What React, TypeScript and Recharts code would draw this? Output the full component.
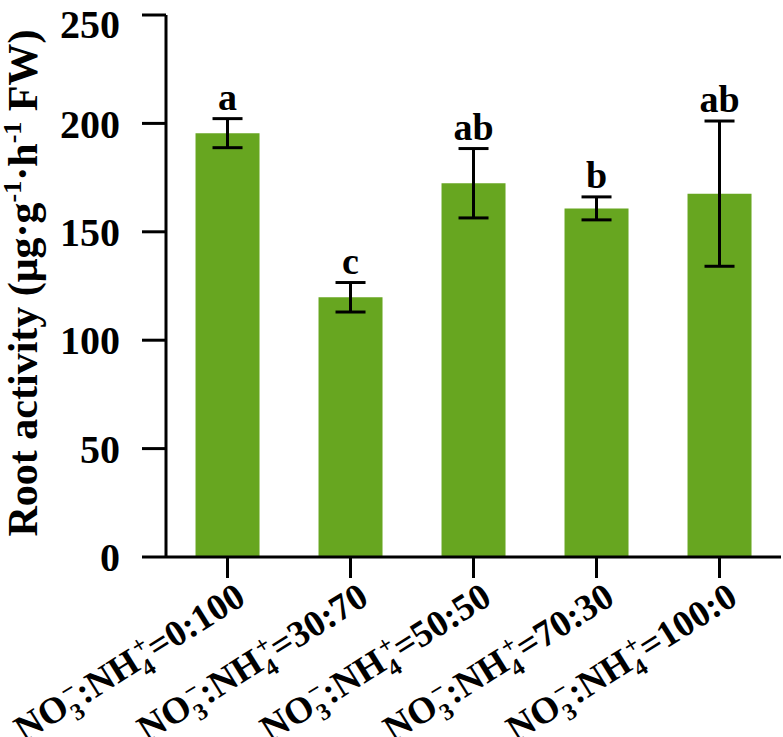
import {
  BarChart, Bar, XAxis, YAxis, ErrorBar, LabelList, Label,
} from "recharts"

const ratios = ["0:100", "30:70", "50:50", "70:30", "100:0"]
const rootActivity = [195.5, 119.8, 172.4, 160.8, 167.6]
const stdErr = [6.7, 6.8, 16, 5.3, 33.5]
const letters = ["a", "c", "ab", "b", "ab"]
const yTicks = [0, 50, 100, 150, 200, 250]
const yMinorTicks = [25, 75, 125, 175, 225]
const xMinorTicks = [0, 1, 2, 3, 4, 5]

const FONT = "'Liberation Serif', 'Times New Roman', serif"
const GREEN = "#67a620"

const data = ratios.map((r, i) => ({
  name: r,
  value: rootActivity[i],
  err: stdErr[i],
  letter: letters[i],
}))

// superscript charge sits stacked over the subscript digit
function XTick(props: any) {
  const { x, y, payload } = props
  const ax = x + 20
  const ay = y + 23
  return (
    <text
      x={ax} y={ay} textAnchor="end" transform={`rotate(-32, ${ax}, ${ay})`}
      fontFamily={FONT} fontWeight="bold" fontSize={37} fill="#000"
    >
      <tspan>NO</tspan>
      <tspan fontSize={24} dy={10}>3</tspan>
      <tspan fontSize={24} dx={-10} dy={-24}>−</tspan>
      <tspan dy={14}>:NH</tspan>
      <tspan fontSize={24} dy={10}>4</tspan>
      <tspan fontSize={24} dx={-9} dy={-24}>+</tspan>
      <tspan dy={14}>={payload.value}</tspan>
    </text>
  )
}

function YLabel(props: any) {
  const { viewBox } = props
  const cx = 37
  const cy = viewBox.y + viewBox.height / 2 - 3
  return (
    <text
      x={cx} y={cy} textAnchor="middle" transform={`rotate(-90, ${cx}, ${cy})`}
      fontFamily={FONT} fontWeight="bold" fontSize={42} fill="#000"
    >
      <tspan>Root activity (μg·g</tspan>
      <tspan fontSize={26} dy={-16}>-1</tspan>
      <tspan dy={16}>·h</tspan>
      <tspan fontSize={26} dy={-16}>-1</tspan>
      <tspan dy={16}> FW)</tspan>
    </text>
  )
}

function LetterLabel(props: any) {
  const { x, y, width, height, value, index } = props
  const pxPerUnit = Math.abs(height) / rootActivity[index]
  const top = y - stdErr[index] * pxPerUnit
  return (
    <text
      x={x + width / 2} y={top - 9} textAnchor="middle"
      fontFamily={FONT} fontWeight="bold" fontSize={38} fill="#000"
    >
      {value}
    </text>
  )
}

const axisStroke = { stroke: "#000", strokeWidth: 3 }

export default function App() {
  return (
    <div style={{ position: "absolute", left: 0, top: 0, width: 783, height: 737, background: "#fff" }}>
      <BarChart
        width={783} height={737} data={data}
        margin={{ top: 15, right: 2, bottom: 0, left: 0 }}
        barCategoryGap="24%"
      >
        <XAxis
          xAxisId="minor" type="number" domain={[0, 5]} ticks={xMinorTicks}
          allowDataOverflow height={0} tick={false} axisLine={false}
          tickLine={axisStroke} tickSize={10}
        />
        <XAxis
          xAxisId="main" dataKey="name" height={180} interval={0}
          tickSize={21} tickLine={axisStroke} axisLine={axisStroke}
          tick={<XTick />}
        />
        <XAxis
          xAxisId="top" dataKey="name" orientation="top" height={0}
          tick={false} tickLine={false} axisLine={axisStroke}
        />
        <YAxis
          yAxisId="minor" type="number" domain={[0, 250]} ticks={yMinorTicks}
          allowDataOverflow width={0} tick={false} axisLine={false}
          tickLine={axisStroke} tickSize={11}
        />
        <YAxis
          yAxisId="main" type="number" domain={[0, 250]} ticks={yTicks}
          width={166} tickSize={24} tickMargin={22}
          tickLine={axisStroke} axisLine={axisStroke}
          tick={{ fontFamily: FONT, fontWeight: "bold", fontSize: 40, fill: "#000" }}
        >
          <Label content={<YLabel />} />
        </YAxis>
        <YAxis
          yAxisId="right" orientation="right" type="number" domain={[0, 250]}
          width={0} tick={false} tickLine={false} axisLine={axisStroke}
        />
        <Bar
          xAxisId="main" yAxisId="main" dataKey="value" fill={GREEN}
          isAnimationActive={false}
        >
          <ErrorBar dataKey="err" width={15} stroke="#000" strokeWidth={3} isAnimationActive={false} />
          <LabelList dataKey="letter" content={<LetterLabel />} />
        </Bar>
      </BarChart>
    </div>
  )
}
